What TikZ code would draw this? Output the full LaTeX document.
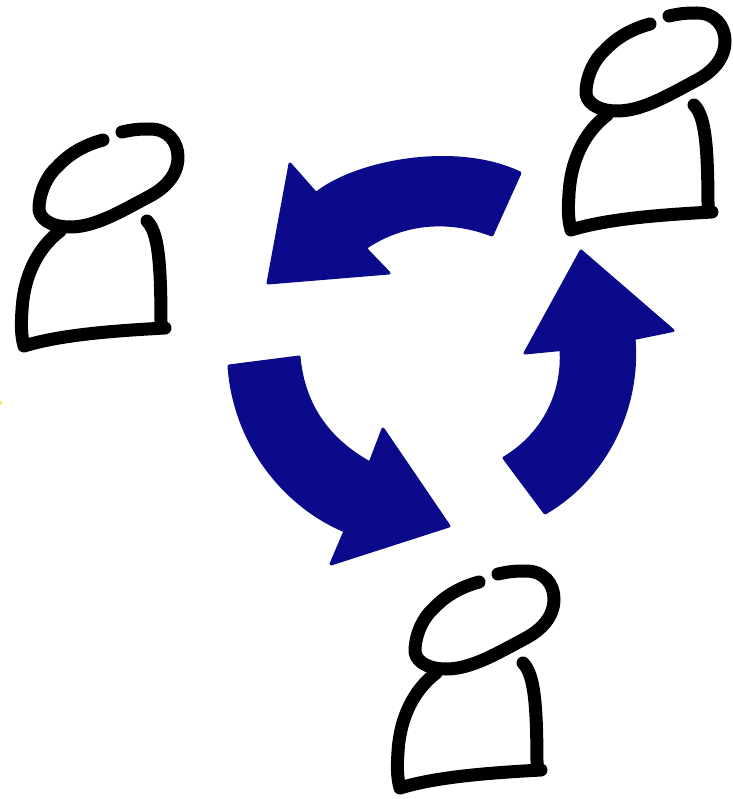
\documentclass[tikz,border=0pt]{standalone}
\usepackage{xcolor}
\definecolor{cyclenavy}{HTML}{0A0A8A}
\definecolor{speckyellow}{HTML}{F5E050}

\begin{document}
\begin{tikzpicture}[
      x=1pt, y=-1pt,
      stroke/.style={line width=13pt, line cap=round, line join=round, black},
      turnarrow/.style={fill=cyclenavy, draw=cyclenavy, line width=3pt, line join=round},
      person/.pic={
        % head
        \draw[stroke] (122,132) .. controls (135,129) and (142,129) .. (150,129)
          .. controls (168,129) and (178,142) .. (178,157)
          .. controls (178,175) and (165,188) .. (150,196)
          .. controls (120,212) and (95,227) .. (70,227)
          .. controls (50,227) and (38,218) .. (39,207)
          .. controls (40,190) and (48,175) .. (57,167)
          .. controls (70,153) and (85,145) .. (103,140);
        % body
        \draw[stroke] (60,231) .. controls (38,248) and (24,275) .. (22,310)
          .. controls (21,325) and (21,335) .. (24,346)
          .. controls (60,335) and (110,331) .. (165,328);
        \draw[stroke] (147,221) .. controls (158,232) and (161,260) .. (161,325);
      },
    ]
    \useasboundingbox (0,0) rectangle (732,799);

    \foreach \dx/\dy in {0/0, 547/-116, 376/442}
      \pic at (\dx,\dy) {person};

    \filldraw[turnarrow] (520,173) -- (492,235)
      .. controls (450,219) and (405,221) .. (365,248) -- (389,273)
      -- (268,283) -- (290,164) -- (316,193.5)
      .. controls (355,162) and (455,142) .. cycle;
    \filldraw[turnarrow] (229,366) -- (299,357)
      .. controls (304,411) and (334,443) .. (370,463) -- (383,429)
      -- (449,526) -- (331,564) -- (345,531)
      .. controls (281,504) and (234,440) .. cycle;
    \filldraw[turnarrow] (504,458) -- (545,513)
      .. controls (604,479) and (640,410) .. (634,338.5) -- (673,330.5)
      -- (581,251) -- (525,353) -- (561,349.5)
      .. controls (564,396) and (541,436) .. cycle;

    \fill[speckyellow] (0,403) circle (2pt);
  \end{tikzpicture}
\end{document}
